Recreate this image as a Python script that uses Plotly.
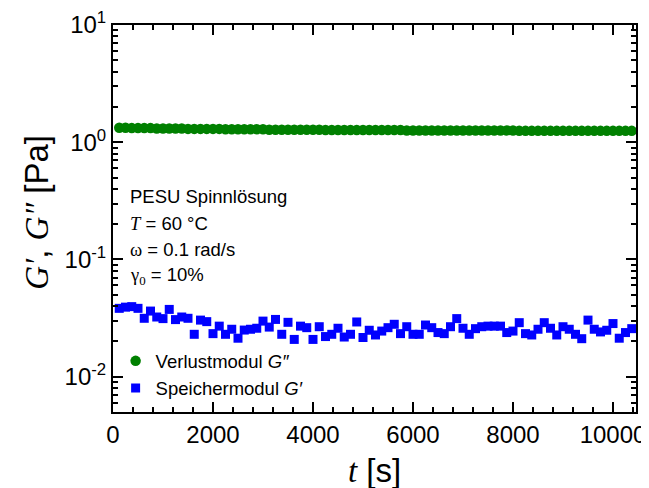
import plotly.graph_objects as go
import math

# time [s]
t = [125 * (i + 1) for i in range(83)]

# Verlustmodul G'' [Pa]
g2 = [1.33, 1.33, 1.32, 1.32, 1.32, 1.32, 1.31, 1.31, 1.31, 1.31,
      1.31, 1.30, 1.30, 1.30, 1.30, 1.30, 1.30, 1.29, 1.29, 1.29,
      1.29, 1.29, 1.29, 1.29, 1.28, 1.28, 1.28, 1.28, 1.28, 1.28,
      1.28, 1.28, 1.28, 1.27, 1.27, 1.27, 1.27, 1.27, 1.27, 1.27,
      1.27, 1.27, 1.27, 1.27, 1.27, 1.27, 1.26, 1.26, 1.26, 1.26,
      1.26, 1.26, 1.26, 1.26, 1.26, 1.26, 1.26, 1.26, 1.26, 1.26,
      1.26, 1.26, 1.26, 1.26, 1.25, 1.25, 1.25, 1.25, 1.25, 1.25,
      1.25, 1.25, 1.25, 1.25, 1.25, 1.25, 1.25, 1.25, 1.25, 1.25,
      1.25, 1.25, 1.25]

# Speichermodul G' [Pa]
g1 = [0.0383, 0.0392, 0.0396, 0.0383, 0.0315, 0.0363, 0.0323, 0.0313, 0.0375, 0.0307,
      0.0323, 0.0315, 0.0230, 0.0304, 0.0295, 0.0233, 0.0270, 0.0230, 0.0254, 0.0213,
      0.0250, 0.0254, 0.0259, 0.0298, 0.0265, 0.0308, 0.0230, 0.0291, 0.0208, 0.0270,
      0.0262, 0.0208, 0.0267, 0.0220, 0.0230, 0.0259, 0.0218, 0.0230, 0.0293, 0.0216,
      0.0249,
      0.0227, 0.0245, 0.0262, 0.0280, 0.0233, 0.0267, 0.0230, 0.0230, 0.0276, 0.0262,
      0.0238, 0.0233, 0.0267, 0.0313, 0.0259, 0.0230, 0.0257, 0.0267, 0.0270, 0.0270,
      0.0270,
      0.0238, 0.0245, 0.0289, 0.0233, 0.0227, 0.0254, 0.0289, 0.0259, 0.0227, 0.0267,
      0.0254, 0.0230, 0.0211, 0.0304, 0.0254, 0.0241, 0.0249, 0.0284, 0.0213, 0.0238,
      0.0257]

y_tickvals = [0.01, 0.1, 1, 10]
y_ticktext = ["10<sup>-2</sup>", "10<sup>-1</sup>", "10<sup>0</sup>", "10<sup>1</sup>"]
x_tickvals = [0, 2000, 4000, 6000, 8000, 10000]
x_ticktext = ["0", "2000", "4000", "6000", "8000", "10000"]

SANS = "Liberation Sans, Arial, sans-serif"
SERIF = "Liberation Serif, Times New Roman, serif"

def serif_i(s):
    return f'<span style="font-family:{SERIF}"><i>{s}</i></span>'

def serif(s):
    return f'<span style="font-family:{SERIF}">{s}</span>'

fig = go.Figure()
fig.add_trace(go.Scatter(
    x=t, y=g2, mode="markers", name="Verlustmodul " + "<i>G″</i>",
    marker=dict(symbol="circle", size=10.5, color="#008000"),
))
fig.add_trace(go.Scatter(
    x=t, y=g1, mode="markers", name="Speichermodul " + "<i>G′</i>",
    marker=dict(symbol="square", size=9, color="#0000ff"),
))

axis_common = dict(
    showline=True, linecolor="black", linewidth=2, mirror="allticks",
    ticks="inside", ticklen=10, tickwidth=1.5, tickcolor="black",
    showgrid=False, zeroline=False, automargin=False,
    tickfont=dict(family=SANS, size=24, color="black"),
)

fig.update_xaxes(
    range=[0, 10460], tickvals=x_tickvals, ticktext=x_ticktext,
    minor=dict(ticks="inside", ticklen=5, tickwidth=1.5, tickcolor="black", dtick=400, showgrid=False),
    **axis_common,
)
fig.update_yaxes(
    type="log", range=[math.log10(0.005), 1],
    tickvals=y_tickvals, ticktext=y_ticktext,
    minor=dict(ticks="inside", ticklen=5, tickwidth=1.5, tickcolor="black", dtick="D1", showgrid=False),
    **axis_common,
)

# axis titles
fig.add_annotation(
    x=0.5, y=-0.152, xref="paper", yref="paper", showarrow=False,
    text=serif_i("t") + " [s]", xanchor="center", yanchor="middle",
    font=dict(family=SANS, size=33, color="black"),
)
fig.add_annotation(
    x=-0.145, y=0.515, xref="paper", yref="paper", showarrow=False,
    text=serif_i("G′") + ", " + serif_i("G″") + " [Pa]", textangle=-90,
    xanchor="center", yanchor="middle",
    font=dict(family=SANS, size=33, color="black"),
)

ann_lines = [
    "PESU Spinnlösung",
    serif_i("T") + " = 60 °C",
    serif("ω") + " = 0.1 rad/s",
    serif("γ<sub>0</sub>") + " = 10%",
]
ann_y = [0.556, 0.487, 0.42, 0.352]
for txt, yy in zip(ann_lines, ann_y):
    fig.add_annotation(
        x=0.028, y=yy, xref="paper", yref="paper", text=txt, showarrow=False,
        xanchor="left", yanchor="middle",
        font=dict(family=SANS, size=18.5, color="black"),
    )

# page body has an 8 px default margin, so the figure is 8 px smaller and
# the left/top margins are 8 px smaller to land the plot area on the reference
fig.update_layout(
    width=641, height=480,
    margin=dict(l=105, r=13, t=17, b=76),
    paper_bgcolor="white", plot_bgcolor="white",
    font=dict(family=SANS, color="black"),
    legend=dict(
        x=0.005, y=0.18, xanchor="left", yanchor="top",
        bgcolor="rgba(0,0,0,0)", font=dict(family=SANS, size=18.5, color="black"),
        itemwidth=30, tracegroupgap=0,
    ),
    showlegend=True,
)

fig.write_html("out.html")
